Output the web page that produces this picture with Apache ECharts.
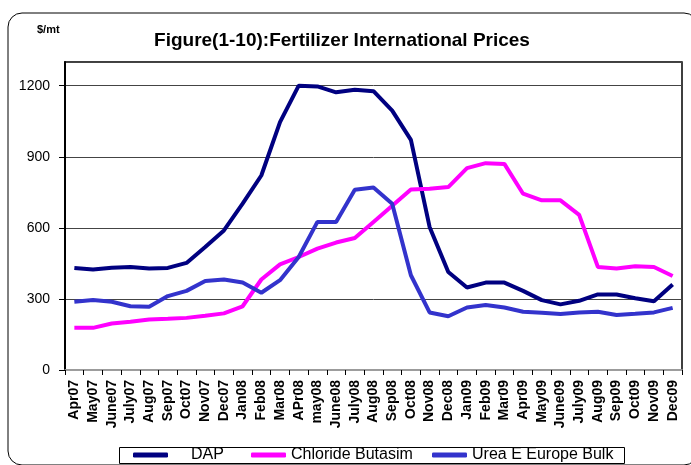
<!DOCTYPE html>
<html>
<head>
<meta charset="utf-8">
<script src="https://cdn.jsdelivr.net/npm/echarts@6/dist/echarts.min.js"></script>
<style>
  html, body { margin: 0; padding: 0; background: #fff; }
  #chart { width: 691px; height: 465px; }
</style>
</head>
<body>
<div id="chart"></div>
<script>
const months = ['Apr07', 'May07', 'June07', 'July07', 'Aug07', 'Sep07', 'Oct07', 'Nov07', 'Dec07',
  'Jan08', 'Feb08', 'Mar08', 'APr08', 'may08', 'June08', 'July08', 'Aug08', 'Sep08', 'Oct08', 'Nov08', 'Dec08',
  'Jan09', 'Feb09', 'Mar09', 'Apr09', 'May09', 'June09', 'July09', 'Aug09', 'Sep09', 'Oct09', 'Nov09', 'Dec09'];

const dap = [431, 424, 432, 435, 428, 431, 452, 519, 589, 702, 821, 1046, 1200, 1197, 1172, 1183, 1177,
  1095, 971, 604, 414, 348, 369, 369, 334, 295, 277, 292, 319, 319, 303, 290, 361];

const chloride = [178, 178, 196, 204, 213, 216, 220, 229, 239, 269, 382, 446, 477, 512, 538, 557, 625,
  693, 762, 765, 772, 852, 873, 870, 744, 716, 716, 655, 435, 428, 438, 435, 397];

const urea = [288, 295, 288, 269, 267, 312, 334, 376, 382, 369, 326, 379, 477, 625, 625, 761, 770,
  702, 400, 243, 227, 264, 274, 264, 246, 242, 236, 243, 246, 232, 237, 243, 262];

const seriesNames = ['DAP', 'Chloride Butasim', 'Urea E Europe Bulk'];
const colors = ['#000080', '#FF00FF', '#3333CC'];

const font = 'Arial, "Liberation Sans", sans-serif';

function lineSeries(name, data, color) {
  return {
    name: name,
    type: 'line',
    data: data,
    showSymbol: false,
    symbol: 'none',
    lineStyle: { color: color, width: 4 },
    itemStyle: { color: color },
    z: 3
  };
}

// one legend per entry so each sits where the original puts it
function legendItem(name, left, textPad) {
  return {
    data: [name],
    left: left,
    top: 447,
    padding: 0,
    itemWidth: 35,
    itemHeight: 5,
    icon: 'roundRect',
    textStyle: { fontSize: 16, color: '#000', fontFamily: font, padding: [0, 0, 0, textPad] }
  };
}

const option = {
  animation: false,
  color: colors,
  textStyle: { fontFamily: font },
  title: {
    text: 'Figure(1-10):Fertilizer International Prices',
    left: 337,
    textAlign: 'center',
    top: 26,
    textStyle: { fontSize: 19, fontWeight: 'bold', color: '#000', fontFamily: font }
  },
  graphic: [
    {
      type: 'rect',
      shape: { x: 8, y: 13, width: 690, height: 452, r: 14 },
      style: { fill: 'none', stroke: '#000', lineWidth: 1 },
      silent: true
    },
    {
      type: 'rect',
      shape: { x: 119.5, y: 447.5, width: 505, height: 16 },
      style: { fill: 'none', stroke: '#000', lineWidth: 1 },
      silent: true
    },
    {
      type: 'text',
      left: 37,
      top: 24,
      style: { text: '$/mt', font: 'bold 11px ' + font, fill: '#000' }
    }
  ],
  legend: [
    legendItem(seriesNames[0], 133, 18),
    legendItem(seriesNames[1], 251, 0),
    legendItem(seriesNames[2], 432, 0)
  ],
  grid: {
    left: 65,
    right: 9,
    top: 62,
    bottom: 95,
    show: true,
    borderColor: '#000',
    borderWidth: 1.5
  },
  xAxis: {
    type: 'category',
    data: months,
    boundaryGap: true,
    axisLine: { show: true, lineStyle: { color: '#bbb', width: 1.5 } },
    axisTick: { show: true, alignWithLabel: false, length: 5, lineStyle: { color: '#000', width: 1 } },
    axisLabel: {
      interval: 0,
      rotate: 90,
      margin: 10,
      fontSize: 14,
      fontWeight: 'bold',
      color: '#000',
      fontFamily: font
    },
    splitLine: { show: false }
  },
  yAxis: {
    type: 'value',
    min: 0,
    max: 1300,
    interval: 300,
    axisLine: { show: true, lineStyle: { color: '#000', width: 2 } },
    axisTick: { show: true, length: 6, lineStyle: { color: '#000' } },
    axisLabel: {
      showMaxLabel: false,
      formatter: function (v) { return String(v); },
      fontSize: 14,
      color: '#000',
      margin: 15,
      fontFamily: font
    },
    splitLine: { show: true, lineStyle: { color: '#444', width: 1 } }
  },
  series: [
    lineSeries(seriesNames[0], dap, colors[0]),
    lineSeries(seriesNames[1], chloride, colors[1]),
    lineSeries(seriesNames[2], urea, colors[2])
  ]
};

const chart = echarts.init(document.getElementById('chart'), null, { renderer: 'canvas' });
chart.setOption(option);
</script>
</body>
</html>
